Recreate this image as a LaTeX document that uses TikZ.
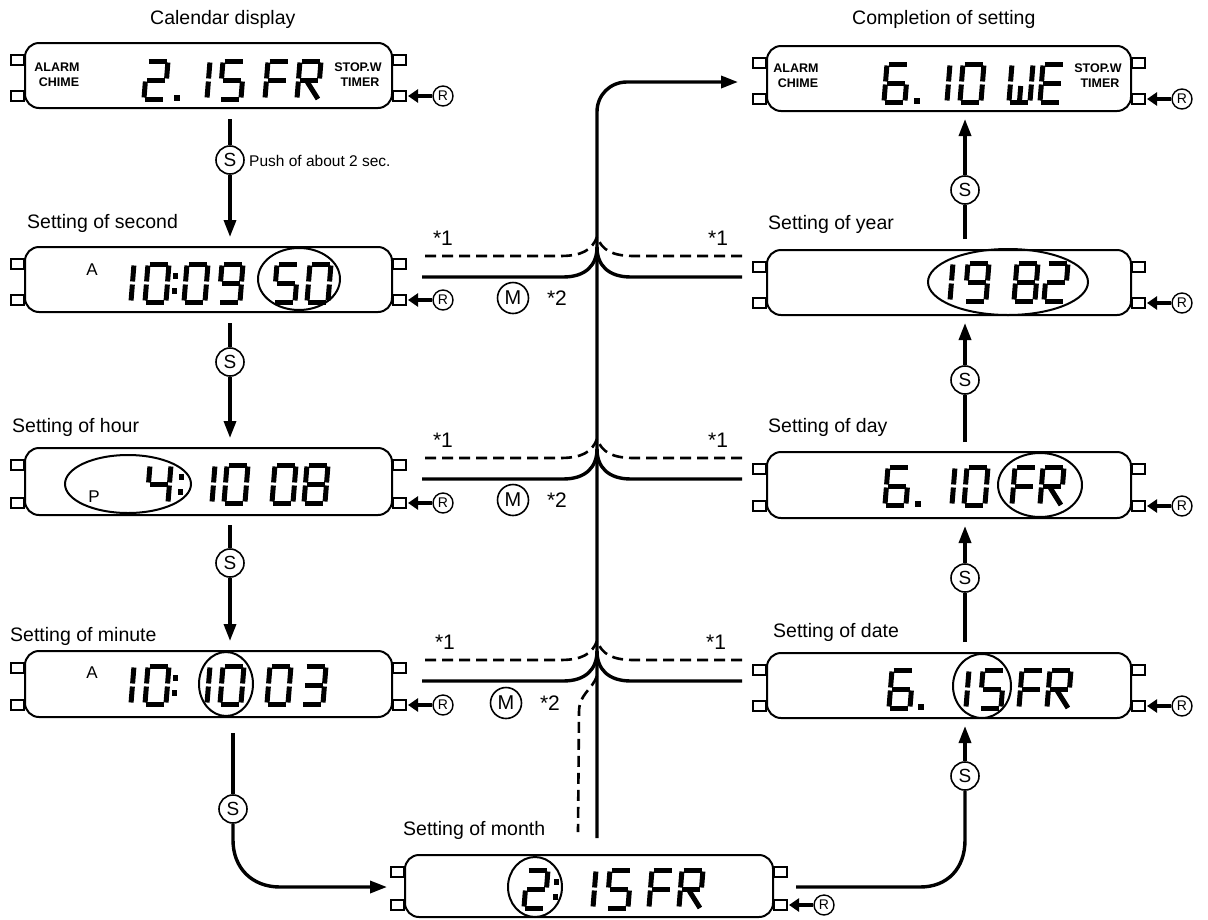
\documentclass[tikz,border=0pt]{standalone}
\usepackage{fontspec}
\setmainfont{Liberation Sans}
\usetikzlibrary{arrows.meta,calc}

\tikzset{
  disp/.style={draw, rounded corners=14pt, line width=2pt, inner sep=0pt},
  tabbox/.style={draw, line width=1.6pt},
  seg/.style={line width=5pt, line cap=butt},
  conn/.style={line width=3.4pt},
  dconn/.style={line width=2.6pt, dash pattern=on 11pt off 6pt},
  arr/.style={-{Triangle[length=17pt,width=12pt]}},
  rarr/.style={line width=4.5pt, -{Triangle[length=10pt,width=13pt]}},
  title/.style={anchor=base west, font=\fontsize{19.5}{21}\selectfont, inner sep=0pt},
  sbtn/.style={circle, draw, line width=1.6pt, minimum size=28pt, inner sep=0pt, font=\fontsize{19}{20}\selectfont, fill=white},
  mbtn/.style={circle, draw, line width=1.6pt, minimum size=31pt, inner sep=0pt, font=\fontsize{20}{20}\selectfont},
  rbtn/.style={circle, draw, line width=1.4pt, minimum size=20pt, inner sep=0pt, font=\fontsize{14}{14}\selectfont},
  star/.style={font=\fontsize{21}{21}\selectfont, inner sep=0pt},
  lbl/.style={font=\bfseries\fontsize{12.5}{13}\selectfont, inner sep=0pt},
  small/.style={font=\fontsize{17}{17}\selectfont, inner sep=0pt},
  hilite/.style={draw, line width=2pt},
}

% seven-segment pieces (local coords, y downwards, w=21, h=38)
\newcommand\zA{\draw[seg] (1.5,0) -- (19.5,0);}
\newcommand\zB{\draw[seg] (21,1.5) -- (21,17.5);}
\newcommand\zC{\draw[seg] (21,20.5) -- (21,36.5);}
\newcommand\zD{\draw[seg] (1.5,38) -- (19.5,38);}
\newcommand\zE{\draw[seg] (0,20.5) -- (0,36.5);}
\newcommand\zF{\draw[seg] (0,1.5) -- (0,17.5);}
\newcommand\zG{\draw[seg] (1.5,19) -- (19.5,19);}
\newcommand\zR{\draw[seg] (9,21) -- (21,38);}
\newcommand\zW{\draw[seg] (10.5,22) -- (10.5,36.5);}
\newcommand\dZero{\zA\zB\zC\zD\zE\zF}
\newcommand\dOne{\zB\zC}
\newcommand\dTwo{\zA\zB\zG\zE\zD}
\newcommand\dThree{\zA\zB\zG\zC\zD}
\newcommand\dFour{\zF\zG\zB\zC}
\newcommand\dFive{\zA\zF\zG\zC\zD}
\newcommand\dSix{\zA\zF\zG\zE\zC\zD}
\newcommand\dEight{\zA\zB\zC\zD\zE\zF\zG}
\newcommand\dNine{\zA\zB\zC\zD\zF\zG}
\newcommand\lF{\zA\zF\zG\zE}
\newcommand\lE{\zA\zF\zG\zE\zD}
\newcommand\lR{\zA\zB\zF\zG\zE\zR}
\newcommand\lW{\zF\zE\zB\zC\zD\zW}
\newcommand\lcd[3]{\begin{scope}[shift={(#1,#2)},xslant=0.08]#3\end{scope}}
\newcommand\lcddot[2]{\fill (#1-3,#2+34) rectangle (#1+2.5,#2+40);}
\newcommand\lcdcolon[2]{\fill (#1-2,#2+9) rectangle (#1+3,#2+15);\fill (#1-3,#2+24) rectangle (#1+2,#2+30);}

% tabs and R button of a display
\newcommand\deco[1]{%
  \draw[tabbox] ($(#1.north west)+(-13,13)$) rectangle +(13,10);
  \draw[tabbox] ($(#1.south west)+(-13,-18)$) rectangle +(13,10);
  \draw[tabbox] ($(#1.north east)+(0,13)$) rectangle +(13,10);
  \draw[tabbox] ($(#1.south east)+(0,-18)$) rectangle +(13,10);
  \node[rbtn] (#1R) at ($(#1.south east)+(50,-13)$) {R};
  \draw[rarr] (#1R.west) -- ($(#1.south east)+(15,-13)$);
}

% junction of the M paths at one level
\newcommand\junc[2]{%
  \coordinate (jsl#2) at (422,#1); \coordinate (jsr#2) at (742,#1);
  \coordinate (jdl#2) at (425,#1-21); \coordinate (jdr#2) at (742,#1-21);
  \draw[conn] (jsl#2) -- (563,#1) .. controls (586,#1) and (597,#1-12) .. (597,#1-30);
  \draw[conn] (jsr#2) -- (631,#1) .. controls (608,#1) and (597,#1-12) .. (597,#1-30);
  \draw[dconn] (jdl#2) -- (560,#1-21) .. controls (582,#1-21) and (592,#1-27) .. (597,#1-40);
  \draw[dconn] (jdr#2) -- (634,#1-21) .. controls (612,#1-21) and (602,#1-27) .. (597,#1-40);
}

\begin{document}
\begin{tikzpicture}[x=1pt,y=-1pt]
\useasboundingbox (0,0) rectangle (1208,919);

% ---------- displays ----------
\node[disp, minimum width=367pt, minimum height=65pt] (cal)  at (208.5,75.5) {};
\node[disp, minimum width=367pt, minimum height=65pt] (sec)  at (208.5,279.5) {};
\node[disp, minimum width=367pt, minimum height=67pt] (hour) at (208.5,481.5) {};
\node[disp, minimum width=367pt, minimum height=66pt] (min)  at (208.5,684) {};
\node[disp, minimum width=364pt, minimum height=65pt] (comp) at (949,78.5) {};
\node[disp, minimum width=364pt, minimum height=65pt] (year) at (949,282.5) {};
\node[disp, minimum width=364pt, minimum height=66pt] (day)  at (949,485) {};
\node[disp, minimum width=364pt, minimum height=65pt] (date) at (949,685.5) {};
\node[disp, minimum width=368pt, minimum height=62pt] (month) at (589,886) {};
\deco{cal}\deco{sec}\deco{hour}\deco{min}
\deco{comp}\deco{year}\deco{day}\deco{date}\deco{month}

% ---------- titles ----------
\node[title] (tcal)   at (150,24)  {Calendar display};
\node[title] (tcomp)  at (852,24)  {Completion of setting};
\node[title] (tsec)   at (27,228)  {Setting of second};
\node[title] (thour)  at (12,432)  {Setting of hour};
\node[title] (tmin)   at (10,641)  {Setting of minute};
\node[title] (tyear)  at (768,229) {Setting of year};
\node[title] (tday)   at (768,432) {Setting of day};
\node[title] (tdate)  at (773,637) {Setting of date};
\node[title] (tmonth) at (403,835) {Setting of month};

% ---------- display contents ----------
% calendar
\node[lbl] (calal) at (57,67) {ALARM};  \node[lbl] (calch) at (59,82) {CHIME};
\node[lbl] (calst) at (358,67) {STOP.W}; \node[lbl] (calti) at (360,82) {TIMER};
\lcd{147}{61}{\dTwo}\lcddot{177}{61}\lcd{189}{61}{\dOne}\lcd{223}{61}{\dFive}\lcd{268}{61}{\lF}\lcd{300}{61}{\lR}
% completion
\node[lbl] (coal) at (796,68) {ALARM};  \node[lbl] (coch) at (798,83) {CHIME};
\node[lbl] (cost) at (1098,68) {STOP.W}; \node[lbl] (coti) at (1100,83) {TIMER};
\lcd{887}{64}{\dSix}\lcddot{917}{64}\lcd{929}{64}{\dOne}\lcd{963}{64}{\dZero}\lcd{1012}{64}{\lW}\lcd{1043}{64}{\lE}
% second
\node[small] (secA) at (92,270) {A};
\lcd{113}{264}{\dOne}\lcd{148}{264}{\dZero}\lcdcolon{175}{264}\lcd{187}{264}{\dZero}\lcd{222}{264}{\dNine}
\lcd{277}{264}{\dFive}\lcd{310}{264}{\dZero}
\draw[hilite] (299,279) ellipse [x radius=41pt, y radius=31pt];
% hour
\node[small] (hourP) at (94,497) {P};
\lcd{150}{465}{\dFour}\lcdcolon{181}{465}\lcd{194}{465}{\dOne}\lcd{227}{465}{\dZero}\lcd{275}{465}{\dZero}\lcd{307}{465}{\dEight}
\draw[hilite] (128,484) ellipse [x radius=63pt, y radius=29pt];
% minute
\node[small] (minA) at (92,673) {A};
\lcd{113}{666}{\dOne}\lcd{148}{666}{\dZero}\lcdcolon{175}{666}\lcd{189}{666}{\dOne}\lcd{223}{666}{\dZero}
\lcd{270}{666}{\dZero}\lcd{305}{666}{\dThree}
\draw[hilite] (226,684) ellipse [x radius=27pt, y radius=32pt];
% year
\lcd{932}{263}{\dOne}\lcd{968}{263}{\dNine}\lcd{1017}{263}{\dEight}\lcd{1047}{263}{\dTwo}
\draw[hilite] (1008,282) ellipse [x radius=80pt, y radius=33pt];
% day
\lcd{888}{467}{\dSix}\lcddot{918}{467}\lcd{934}{467}{\dOne}\lcd{967}{467}{\dZero}\lcd{1015}{467}{\lF}\lcd{1043}{467}{\lR}
\draw[hilite] (1040,485) ellipse [x radius=42pt, y radius=32pt];
% date
\lcd{892}{670}{\dSix}\lcddot{921}{670}\lcd{948}{670}{\dOne}\lcd{983}{670}{\dFive}\lcd{1022}{670}{\lF}\lcd{1050}{670}{\lR}
\draw[hilite] (982,686) ellipse [x radius=29pt, y radius=32pt];
% month
\lcd{527}{870}{\dTwo}\lcdcolon{556}{870}\lcd{575}{870}{\dOne}\lcd{610}{870}{\dFive}\lcd{652}{870}{\lF}\lcd{682}{870}{\lR}
\draw[hilite] (535,887) ellipse [x radius=27pt, y radius=30pt];

% ---------- S buttons ----------
\node[sbtn] (s1) at (230,160) {S};
\node[sbtn] (s2) at (230,362) {S};
\node[sbtn] (s3) at (230,563) {S};
\node[sbtn] (s4) at (233,809) {S};
\node[sbtn] (s5) at (965,776) {S};
\node[sbtn] (s6) at (965,578) {S};
\node[sbtn] (s7) at (965,380) {S};
\node[sbtn] (s8) at (965,190) {S};
\node[anchor=base west, inner sep=0pt, font=\fontsize{15.5}{16}\selectfont] (push) at (249,166) {Push of about 2 sec.};

% left column (downwards)
\draw[conn] ($(cal.south -| s1)+(0,10)$) -- (s1);
\draw[conn,arr] (s1) -- ($(sec.north -| s1)+(0,-9)$);
\draw[conn] ($(sec.south -| s2)+(0,10)$) -- (s2);
\draw[conn,arr] (s2) -- ($(hour.north -| s2)+(0,-9)$);
\draw[conn] ($(hour.south -| s3)+(0,9)$) -- (s3);
\draw[conn,arr] (s3) -- ($(min.north -| s3)+(0,-9)$);
\draw[conn] ($(min.south -| s4)+(0,15)$) -- (s4);
\draw[conn,arr] (s4) -- (233,840) .. controls (233,868) and (252,887) .. (280,887) -- ($(month.west)+(-17,1)$);

% right column (upwards)
\draw[conn] ($(month.east)+(22,1)$) -- (920,887) .. controls (948,887) and (965,868) .. (965,840) -- (s5);
\draw[conn,arr] (s5) -- ($(date.south -| s5)+(0,7)$);
\draw[conn] ($(date.north -| s6)+(0,-10)$) -- (s6);
\draw[conn,arr] (s6) -- ($(day.south -| s6)+(0,7)$);
\draw[conn] ($(day.north -| s7)+(0,-9)$) -- (s7);
\draw[conn,arr] (s7) -- ($(year.south -| s7)+(0,7)$);
\draw[conn] ($(year.north -| s8)+(0,-10)$) -- (s8);
\draw[conn,arr] (s8) -- ($(comp.south -| s8)+(0,7)$);

% ---------- M paths ----------
\coordinate (trunkB) at (597,838);
\coordinate (dashB) at (578,832);
\draw[conn,arr] (trunkB) -- (597,112) .. controls (597,95) and (610,82) .. (627,82) -- ($(comp.west)+(-28,3.5)$);
\junc{277}{1}
\junc{479}{2}
\junc{681}{3}
\draw[dconn] (597,676) .. controls (592,690) and (579,694) .. (579,712) -- (dashB);

\node[star] (k1a) at (443,238) {*1}; \node[star] (k1b) at (718,238) {*1};
\node[mbtn] (m1) at (513,298) {M};  \node[star] (k2a) at (557,298) {*2};
\node[star] (k1c) at (443,440) {*1}; \node[star] (k1d) at (718,440) {*1};
\node[mbtn] (m2) at (513,500) {M};  \node[star] (k2b) at (557,500) {*2};
\node[star] (k1e) at (445,642) {*1}; \node[star] (k1f) at (716,642) {*1};
\node[mbtn] (m3) at (506,703) {M};  \node[star] (k2c) at (550,703) {*2};
\end{tikzpicture}
\end{document}
